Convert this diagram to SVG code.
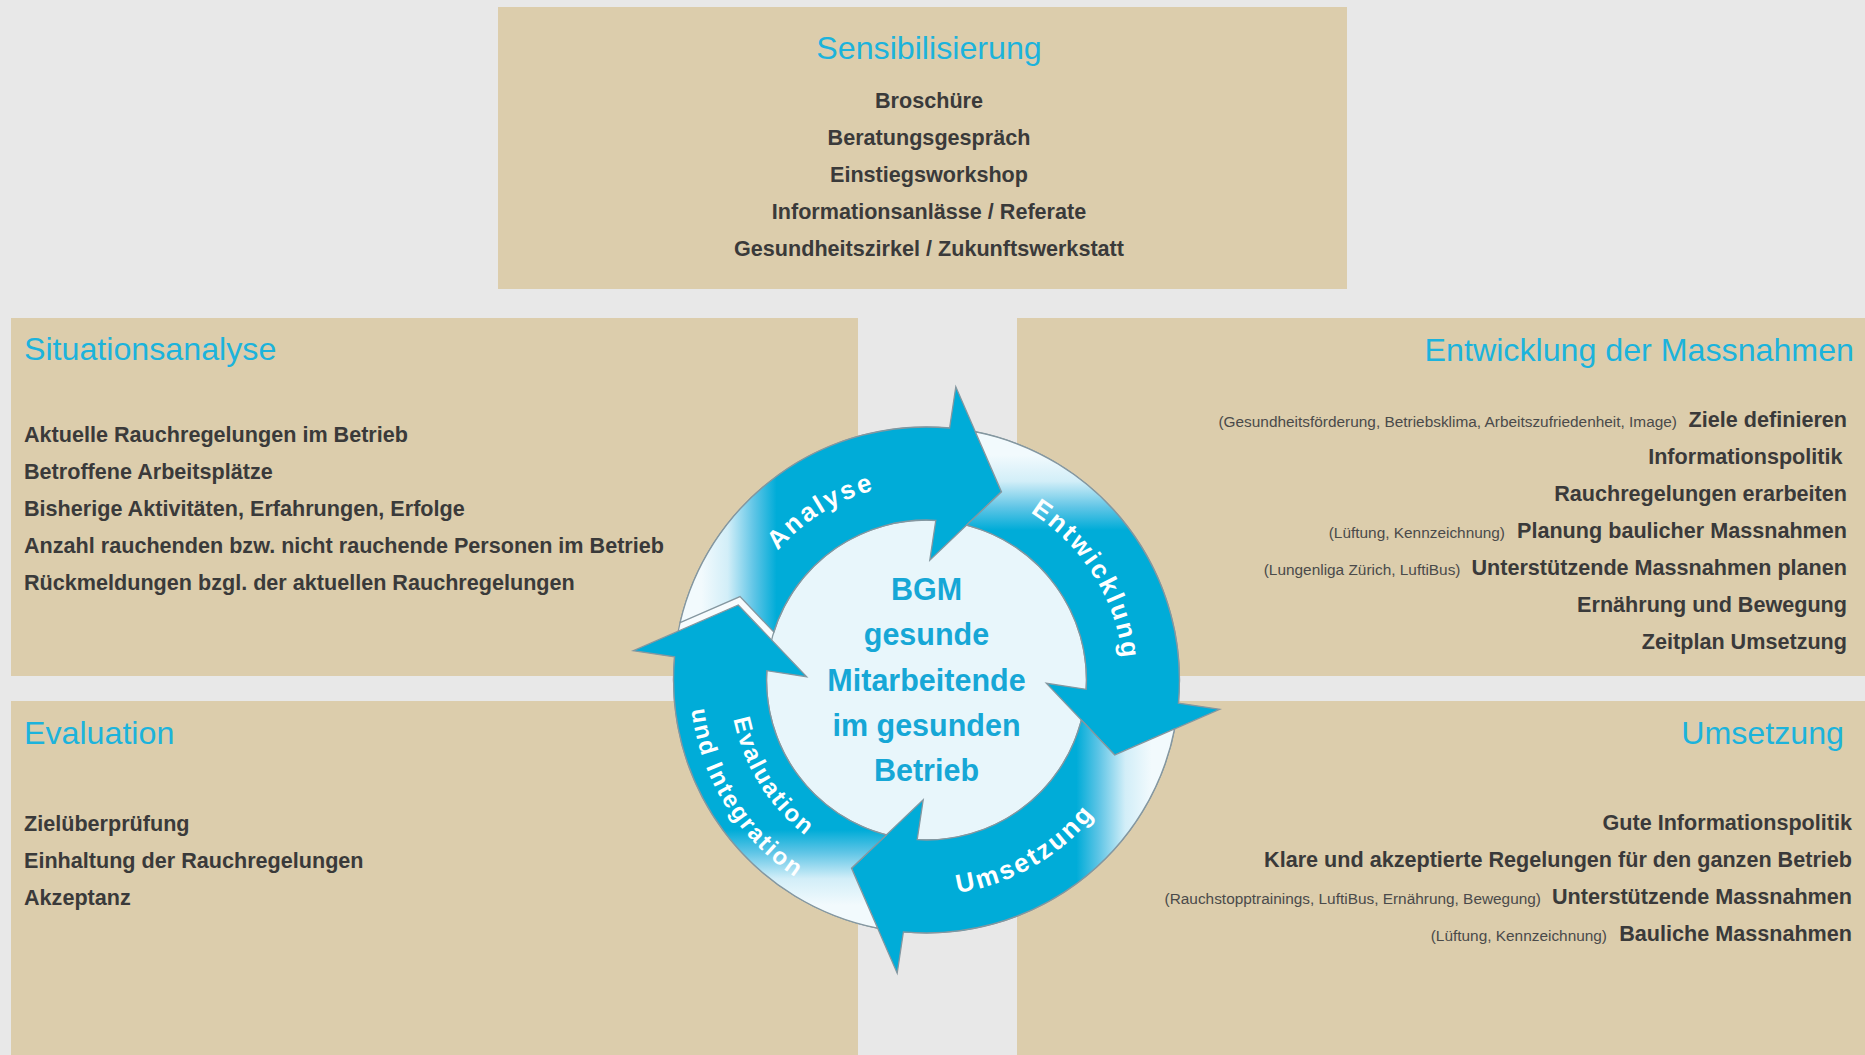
<svg xmlns="http://www.w3.org/2000/svg" width="1865" height="1055" viewBox="0 0 1865 1055">
  <defs>
    <style>
      .panel { fill: #dccdac; }
      .title { font-family: "Liberation Sans", Arial, sans-serif; font-size: 32.2px; fill: #1cb3dc; }
      .item { font-family: "Liberation Sans", Arial, sans-serif; font-size: 21.6px; font-weight: bold; fill: #3a3a3a; }
      .note { font-family: "Liberation Sans", Arial, sans-serif; font-size: 15.4px; fill: #4a4a4a; }
      .end { text-anchor: end; }
      .mid { text-anchor: middle; }
      .core { font-family: "Liberation Sans", Arial, sans-serif; font-size: 30.5px; font-weight: bold; fill: #16a7d6; text-anchor: middle; }
      .ring-label { font-family: "Liberation Sans", Arial, sans-serif; font-size: 26px; font-weight: bold; fill: #ffffff; letter-spacing: 2.5px; }
      .ring-label-sm { font-family: "Liberation Sans", Arial, sans-serif; font-size: 24px; font-weight: bold; fill: #ffffff; letter-spacing: 2px; }
      .arrow { fill: url(#bandGrad); stroke: #8497a0; stroke-width: 1.3; stroke-linejoin: miter; }
      .ring { fill: #f7fcfe; stroke: #8497a0; stroke-width: 1.3; }
      .hub { fill: #e8f6fb; stroke: #8497a0; stroke-width: 1.3; }
    </style>
    <!-- band fades from pale at the tail to full cyan; defined in the arrow's local frame -->
    <linearGradient id="bandGrad" gradientUnits="userSpaceOnUse" x1="-225" y1="0" x2="-150" y2="0">
      <stop offset="0" stop-color="#f2fafd"/>
      <stop offset="0.35" stop-color="#d2eef8"/>
      <stop offset="0.7" stop-color="#5fc5e6"/>
      <stop offset="1" stop-color="#00acd8"/>
    </linearGradient>
    <!-- label baselines around the hub centre (926.5, 680) -->
    <path id="arcAnalyse" d="M 729.62 686.88 A 197 197 0 0 1 1018.99 506.06"/>
    <path id="arcEntwicklung" d="M 919.63 483.12 A 197 197 0 0 1 1100.44 772.49"/>
    <path id="arcUmsetzung" d="M 819 866.19 A 215 215 0 0 0 1141.5 680"/>
    <path id="arcEvalInner" d="M 752.56 587.51 A 197 197 0 0 0 933.38 876.88"/>
    <path id="arcEvalOuter" d="M 717.24 568.74 A 237 237 0 0 0 934.77 916.86"/>
  </defs>

  <!-- page background -->
  <rect x="0" y="0" width="1865" height="1055" fill="#e8e8e8"/>

  <g id="sensibilisierung">
    <rect class="panel" x="498" y="7" width="849" height="282"/>
    <text class="title mid" x="929" y="59">Sensibilisierung</text>
    <text class="item mid" x="929" y="108">Broschüre</text>
    <text class="item mid" x="929" y="145">Beratungsgespräch</text>
    <text class="item mid" x="929" y="182">Einstiegsworkshop</text>
    <text class="item mid" x="929" y="219">Informationsanlässe / Referate</text>
    <text class="item mid" x="929" y="256">Gesundheitszirkel / Zukunftswerkstatt</text>
  </g>

  <g id="situationsanalyse">
    <rect class="panel" x="11" y="318" width="847" height="358"/>
    <text class="title" x="24" y="360">Situationsanalyse</text>
    <text class="item" x="24" y="442">Aktuelle Rauchregelungen im Betrieb</text>
    <text class="item" x="24" y="479">Betroffene Arbeitsplätze</text>
    <text class="item" x="24" y="516">Bisherige Aktivitäten, Erfahrungen, Erfolge</text>
    <text class="item" x="24" y="553">Anzahl rauchenden bzw. nicht rauchende Personen im Betrieb</text>
    <text class="item" x="24" y="590">Rückmeldungen bzgl. der aktuellen Rauchregelungen</text>
  </g>

  <g id="entwicklung">
    <rect class="panel" x="1017" y="318" width="848" height="358"/>
    <text class="title end" x="1854" y="361">Entwicklung der Massnahmen</text>
    <text class="note end" x="1677" y="427">(Gesundheitsförderung, Betriebsklima, Arbeitszufriedenheit, Image)</text>
    <text class="item end" x="1847" y="427">Ziele definieren</text>
    <text class="item end" x="1842.5" y="464">Informationspolitik</text>
    <text class="item end" x="1847" y="501">Rauchregelungen erarbeiten</text>
    <text class="note end" x="1505" y="538">(Lüftung, Kennzeichnung)</text>
    <text class="item end" x="1847" y="538">Planung baulicher Massnahmen</text>
    <text class="note end" x="1460.5" y="575">(Lungenliga Zürich, LuftiBus)</text>
    <text class="item end" x="1847" y="575">Unterstützende Massnahmen planen</text>
    <text class="item end" x="1847" y="612">Ernährung und Bewegung</text>
    <text class="item end" x="1847" y="649">Zeitplan Umsetzung</text>
  </g>

  <g id="evaluation">
    <rect class="panel" x="11" y="701" width="847" height="354"/>
    <text class="title" x="24" y="744">Evaluation</text>
    <text class="item" x="24" y="831">Zielüberprüfung</text>
    <text class="item" x="24" y="868">Einhaltung der Rauchregelungen</text>
    <text class="item" x="24" y="905">Akzeptanz</text>
  </g>

  <g id="umsetzung">
    <rect class="panel" x="1017" y="701" width="848" height="354"/>
    <text class="title end" x="1844" y="744">Umsetzung</text>
    <text class="item end" x="1852" y="830">Gute Informationspolitik</text>
    <text class="item end" x="1852" y="867">Klare und akzeptierte Regelungen für den ganzen Betrieb</text>
    <text class="note end" x="1541" y="904">(Rauchstopptrainings, LuftiBus, Ernährung, Bewegung)</text>
    <text class="item end" x="1852" y="904">Unterstützende Massnahmen</text>
    <text class="note end" x="1607" y="941">(Lüftung, Kennzeichnung)</text>
    <text class="item end" x="1852" y="941">Bauliche Massnahmen</text>
  </g>

  <g id="cycle">
    <circle class="ring" cx="926.5" cy="680" r="253"/>
    <circle class="hub" cx="926.5" cy="680" r="160"/>

    <!-- four curved arrows, rotated a quarter turn each; the Analyse tail keeps a small notch gap -->
    <g id="connectors">
      <g id="arrow-analyse" transform="translate(926.5 680)">
        <path class="arrow" d="M -246.4 -57.3 A 253 253 0 0 1 23.1 -251.9 L 29.3 -293.2 L 75 -188.2 L 3.3 -119.8 L 9.3 -159.7 A 160 160 0 0 0 -152.7 -48 L -186.5 -83.4 Z"/>
      </g>
      <g id="arrow-entwicklung" transform="translate(926.5 680) rotate(90)">
        <path class="arrow" d="M -248.05 -48.95 A 253 253 0 0 1 23.1 -251.9 L 29.3 -293.2 L 75 -188.2 L 3.3 -119.8 L 9.3 -159.7 A 160 160 0 0 0 -154.9 -40.1 L -188.2 -75 Z"/>
      </g>
      <g id="arrow-umsetzung" transform="translate(926.5 680) rotate(180)">
        <path class="arrow" d="M -248.05 -48.95 A 253 253 0 0 1 23.1 -251.9 L 29.3 -293.2 L 75 -188.2 L 3.3 -119.8 L 9.3 -159.7 A 160 160 0 0 0 -154.9 -40.1 L -188.2 -75 Z"/>
      </g>
      <g id="arrow-evaluation" transform="translate(926.5 680) rotate(270)">
        <path class="arrow" d="M -248.05 -48.95 A 253 253 0 0 1 23.1 -251.9 L 29.3 -293.2 L 75 -188.2 L 3.3 -119.8 L 9.3 -159.7 A 160 160 0 0 0 -154.9 -40.1 L -188.2 -75 Z"/>
      </g>
    </g>

    <g id="cycle-labels">
      <text class="ring-label"><textPath href="#arcAnalyse" startOffset="50%" text-anchor="middle">Analyse</textPath></text>
      <text class="ring-label"><textPath href="#arcEntwicklung" startOffset="50%" text-anchor="middle">Entwicklung</textPath></text>
      <text class="ring-label"><textPath href="#arcUmsetzung" startOffset="50%" text-anchor="middle">Umsetzung</textPath></text>
      <text class="ring-label-sm"><textPath href="#arcEvalInner" startOffset="50%" text-anchor="middle">Evaluation</textPath></text>
      <text class="ring-label-sm"><textPath href="#arcEvalOuter" startOffset="50%" text-anchor="middle">und Integration</textPath></text>
    </g>

    <g id="hub-text">
      <text class="core" x="926.5" y="600">BGM</text>
      <text class="core" x="926.5" y="645">gesunde</text>
      <text class="core" x="926.5" y="691">Mitarbeitende</text>
      <text class="core" x="926.5" y="736">im gesunden</text>
      <text class="core" x="926.5" y="781">Betrieb</text>
    </g>
  </g>
</svg>
